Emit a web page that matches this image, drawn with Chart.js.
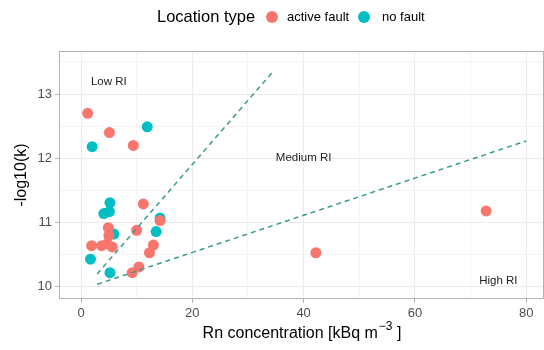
<!DOCTYPE html>
<html>
<head>
<meta charset="utf-8">
<script src="https://cdn.jsdelivr.net/npm/chart.js@4.4.1/dist/chart.umd.min.js"></script>
<style>
  html, body { margin: 0; padding: 0; background: #fff; }
  #wrap { width: 544px; height: 350px; }
</style>
</head>
<body>
<div id="wrap"><canvas id="rnChart" width="544" height="350"></canvas></div>
<script>
// active fault locations
const activeX = [1.2, 5.1, 9.4, 11.2, 1.9, 3.7, 4.7, 5.6, 4.9, 5.0, 10.0, 14.2, 13.0, 12.3, 10.4, 9.2, 42.2, 72.8];
const activeY = [12.70, 12.40, 12.20, 11.29, 10.64, 10.64, 10.67, 10.62, 10.92, 10.80, 10.88, 11.03, 10.65, 10.53, 10.31, 10.22, 10.53, 11.18];

// no fault locations
const noFaultX = [11.9, 2.0, 5.2, 4.1, 5.1, 5.9, 14.2, 13.5, 1.7, 5.2];
const noFaultY = [12.49, 12.18, 11.31, 11.14, 11.17, 10.82, 11.07, 10.86, 10.43, 10.22];

// risk index boundaries
const lowMedX = [2.9, 34.4];
const lowMedY = [10.20, 13.34];
const medHighX = [2.9, 80];
const medHighY = [10.04, 12.27];

// region labels
const regionLabels = ['Low RI', 'Medium RI', 'High RI'];
const regionX = [5.0, 40, 75];
const regionY = [13.19, 12.0, 10.09];

// axes
const xTicks = [-10, 0, 10, 20, 30, 40, 50, 60, 70, 80, 90];
const yTicks = [9.5, 10, 10.5, 11, 11.5, 12, 12.5, 13, 13.5, 14];
const xMajor = [0, 20, 40, 60, 80];
const yMajor = [10, 11, 12, 13];

const FONT = '"Liberation Sans", Arial, Helvetica, sans-serif';
const RED = '#F8766D';
const TEAL = '#00BFC4';
const LINE = '#3a9a8e';

const toPoints = (xs, ys) => xs.map((x, i) => ({ x: x, y: ys[i] }));

const decorations = {
    id: 'decorations',
    afterDatasetsDraw: (chart) => {
        const ctx = chart.ctx;
        const area = chart.chartArea;
        const xs = chart.scales.x;
        const ys = chart.scales.y;

        ctx.save();
        // panel border
        ctx.strokeStyle = '#b3b3b3';
        ctx.lineWidth = 1;
        ctx.strokeRect(area.left + 0.5, area.top + 0.5, area.right - area.left - 1, area.bottom - area.top - 1);

        // region labels
        ctx.fillStyle = '#222';
        ctx.font = '11.5px ' + FONT;
        ctx.textAlign = 'center';
        ctx.textBaseline = 'middle';
        regionLabels.forEach((t, i) => {
            ctx.fillText(t, xs.getPixelForValue(regionX[i]), ys.getPixelForValue(regionY[i]));
        });

        // x axis title with superscript
        ctx.fillStyle = '#000';
        const cx = (area.left + area.right) / 2;
        const partA = 'Rn concentration [kBq m';
        const sup = '\u22123';
        const partB = ' ]';
        ctx.font = '16px ' + FONT;
        const wA = ctx.measureText(partA).width;
        const wB = ctx.measureText(partB).width;
        ctx.font = '12px ' + FONT;
        const wS = ctx.measureText(sup).width;
        let x0 = cx - (wA + wS + wB) / 2;
        ctx.textAlign = 'left';
        ctx.textBaseline = 'alphabetic';
        ctx.font = '16px ' + FONT;
        ctx.fillText(partA, x0, 338);
        ctx.font = '12px ' + FONT;
        ctx.fillText(sup, x0 + wA + 1, 330);
        ctx.font = '16px ' + FONT;
        ctx.fillText(partB, x0 + wA + wS + 1, 338);

        // y axis title
        ctx.textAlign = 'center';
        ctx.textBaseline = 'middle';
        ctx.save();
        ctx.translate(22, (area.top + area.bottom) / 2);
        ctx.rotate(-Math.PI / 2);
        ctx.fillText('-log10(k)', 0, 0);
        ctx.restore();

        // legend
        ctx.textAlign = 'left';
        ctx.font = '16.5px ' + FONT;
        ctx.fillText('Location type', 157, 17);
        ctx.font = '13px ' + FONT;
        ctx.fillStyle = RED;
        ctx.beginPath(); ctx.arc(272, 17, 6, 0, Math.PI * 2); ctx.fill();
        ctx.fillStyle = TEAL;
        ctx.beginPath(); ctx.arc(364, 17, 6, 0, Math.PI * 2); ctx.fill();
        ctx.fillStyle = '#000';
        ctx.fillText('active fault', 287, 17);
        ctx.fillText('no fault', 382, 17);
        ctx.restore();
    }
};

const gridColor = (major) => (c) => major.includes(c.tick.value) ? '#ebebeb' : '#f4f4f4';
const tickColor = (major) => (c) => major.includes(c.tick.value) ? '#b3b3b3' : 'rgba(0,0,0,0)';

new Chart(document.getElementById('rnChart').getContext('2d'), {
    type: 'scatter',
    data: {
        datasets: [
            {
                label: 'no fault',
                data: toPoints(noFaultX, noFaultY),
                backgroundColor: TEAL,
                borderWidth: 0,
                pointRadius: 5.5,
                order: 3
            },
            {
                label: 'active fault',
                data: toPoints(activeX, activeY),
                backgroundColor: RED,
                borderWidth: 0,
                pointRadius: 5.5,
                order: 2
            },
            {
                label: 'low/medium',
                data: toPoints(lowMedX, lowMedY),
                showLine: true,
                borderColor: LINE,
                borderWidth: 1.5,
                borderDash: [5, 4],
                pointRadius: 0,
                order: 1
            },
            {
                label: 'medium/high',
                data: toPoints(medHighX, medHighY),
                showLine: true,
                borderColor: LINE,
                borderWidth: 1.5,
                borderDash: [5, 4],
                pointRadius: 0,
                order: 1
            }
        ]
    },
    options: {
        responsive: false,
        animation: false,
        events: [],
        layout: { autoPadding: false, padding: { top: 51, right: 0, bottom: 0, left: 0 } },
        plugins: { legend: { display: false }, tooltip: { enabled: false } },
        scales: {
            x: {
                type: 'linear',
                min: -3.96,
                max: 83.2,
                afterBuildTicks: (s) => { s.ticks = xTicks.filter(v => v >= s.min && v <= s.max).map(v => ({ value: v })); },
                afterFit: (s) => { s.height = 51; s.paddingLeft = 0; s.paddingRight = 0; },
                grid: { color: gridColor(xMajor), tickColor: tickColor(xMajor), tickLength: 4, lineWidth: 1 },
                border: { display: false },
                ticks: {
                    autoSkip: false,
                    maxRotation: 0,
                    padding: 3,
                    color: '#4d4d4d',
                    font: { family: FONT, size: 13 },
                    callback: (v) => xMajor.includes(v) ? String(v) : ''
                }
            },
            y: {
                type: 'linear',
                min: 9.81,
                max: 13.67,
                afterBuildTicks: (s) => { s.ticks = yTicks.filter(v => v >= s.min && v <= s.max).map(v => ({ value: v })); },
                afterFit: (s) => { s.width = 59; s.paddingTop = 0; s.paddingBottom = 0; },
                grid: { color: gridColor(yMajor), tickColor: tickColor(yMajor), tickLength: 4, lineWidth: 1 },
                border: { display: false },
                ticks: {
                    autoSkip: false,
                    padding: 3,
                    color: '#4d4d4d',
                    font: { family: FONT, size: 13 },
                    callback: (v) => yMajor.includes(v) ? String(v) : ''
                }
            }
        }
    },
    plugins: [decorations]
});
</script>
</body>
</html>
